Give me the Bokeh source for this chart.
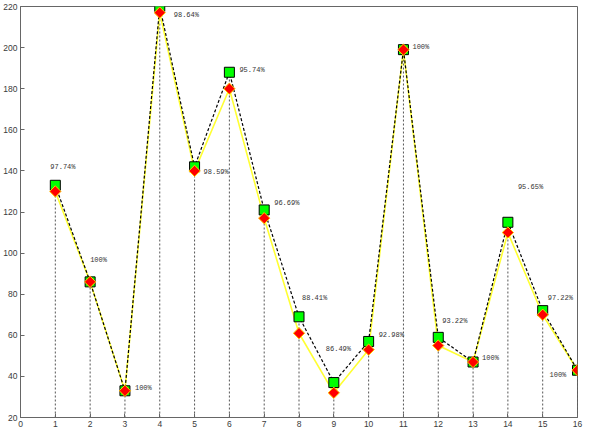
import numpy as np
from bokeh.plotting import figure
from bokeh.models import ColumnDataSource, FixedTicker, Range1d
from bokeh.core.properties import value
from bokeh.embed import file_html
from bokeh.resources import INLINE

# ---- data ----
x_vals = list(range(1, 17))
green_vals = [133, 86, 33, 220, 142, 188, 121, 69, 37, 57, 199, 59, 47, 115, 72, 43]
red_vals = [130, 86, 33, 217, 140, 180, 117, 61, 32, 53, 199, 55, 47, 110, 70, 43]
pct_labels = ["97.74%", "100%", "100%", "98.64%", "98.59%", "95.74%", "96.69%", "88.41%",
              "86.49%", "92.98%", "100%", "93.22%", "100%", "95.65%", "97.22%", "100%"]
x_ticks = list(range(0, 17))
y_ticks = list(range(20, 221, 20))

# label placement (screen pixels, relative to the green marker)
label_dx = [-5, 0, 10, 14, 9, 10, 10, 3, -8, 10, 9, 4, 9, 10, 5, -28]
label_dy = [-18, -22, -3, 8, 5, -2, -7, -19, -34, -6, -3, -16, -4, -35, -13, 5]

baseline = y_ticks[0]

src = ColumnDataSource(dict(x=x_vals, g=green_vals, r=red_vals, base=[baseline] * len(x_vals),
                            lab=pct_labels, dx=label_dx, dy=label_dy))

p = figure(width=584, height=429, output_backend="svg", toolbar_location=None,
           x_range=Range1d(x_ticks[0], x_ticks[-1]), y_range=Range1d(y_ticks[0], y_ticks[-1]),
           min_border_left=14, min_border_right=7, min_border_top=6, min_border_bottom=4)
p.background_fill_color = "white"
p.border_fill_color = "white"
p.outline_line_color = "#666666"
p.outline_line_width = 1
p.xgrid.visible = False
p.ygrid.visible = False

for ax in (p.xaxis[0], p.yaxis[0]):
    ax.axis_line_color = "#666666"
    ax.major_tick_line_color = "#666666"
    ax.major_tick_in = 4
    ax.major_tick_out = 0
    ax.minor_tick_line_color = None
    ax.major_label_text_font = "Liberation Sans"
    ax.major_label_text_font_size = "8.5px"
    ax.major_label_text_color = "#3a3a3a"
    ax.major_label_standoff = 3
p.xaxis.ticker = FixedTicker(ticks=x_ticks)
p.yaxis.ticker = FixedTicker(ticks=y_ticks)

# stems
p.segment(x0="x", y0="base", x1="x", y1="g", source=src, line_color="#555555",
          line_width=1, line_dash="2 2")
# lines
p.line("x", "r", source=src, line_color="#ffff33", line_width=1.6)
p.line("x", "g", source=src, line_color="black", line_width=1.2, line_dash="3 2")
# markers
p.scatter("x", "g", source=src, marker="square", size=10, fill_color="#00ff00",
          line_color="black", line_width=1)
p.scatter("x", "r", source=src, marker="square", angle=np.pi / 4, size=8,
          fill_color="#ff0000", line_color="#ffcc00", line_width=1)

# percent labels
p.text("x", "g", text="lab", source=src, x_offset="dx", y_offset="dy",
       text_font=value("Liberation Mono"), text_font_size="7px", text_color="#333333",
       text_align="left", text_baseline="middle")

open("out.html", "w").write(file_html(p, INLINE))
